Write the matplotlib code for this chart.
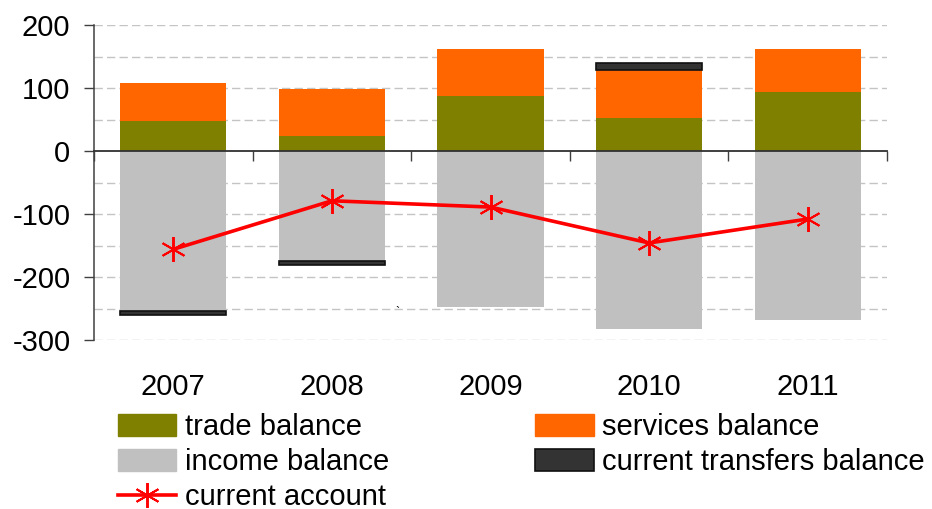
import numpy as np
import matplotlib
matplotlib.use("Agg")
import matplotlib.pyplot as plt
from matplotlib.transforms import blended_transform_factory
from matplotlib.patches import Patch
from matplotlib.lines import Line2D

plt.rcParams['font.family'] = ['Liberation Sans', 'DejaVu Sans']
plt.rcParams['axes.unicode_minus'] = False

# data
years = ['2007', '2008', '2009', '2010', '2011']
trade = [48, 24, 87, 52, 94]
services = [60, 74, 75, 76, 68]
income = [-254, -175, -248, -282, -269]
transfers = [-6, -6, 0, 11, 0]
current = [-156, -79, -89, -146, -108]

x = np.arange(len(years))
w = 0.67
fs = 21

c_trade = '#808000'
c_serv = '#FF6600'
c_inc = '#C0C0C0'
c_tr = '#333333'
c_cur = '#FF0000'

fig = plt.figure(figsize=(9.32, 5.09), dpi=100)
ax = fig.add_axes([94 / 932, 1 - 340 / 509, (887 - 94) / 932, 315 / 509])

# dashed grid every 50
for g in np.arange(-300, 201, 50):
    if g == 0:
        continue
    ax.axhline(g, color='#c4c4c4', lw=1.0, dashes=(6, 3), zorder=0)

ax.bar(x, trade, w, color=c_trade, zorder=2)
ax.bar(x, services, w, bottom=trade, color=c_serv, zorder=2)
ax.bar(x, income, w, color=c_inc, zorder=2)

pos_bottom = np.array(trade) + np.array(services)
tr = np.array(transfers)
tr_bottom = np.where(tr >= 0, pos_bottom, np.array(income))
nz = tr != 0
ax.bar(x[nz], tr[nz], w, bottom=tr_bottom[nz], color=c_tr, edgecolor='#111111',
       linewidth=1.2, zorder=3)

marker = (6, 2, 0)
ax.plot(x, current, color=c_cur, lw=2.6, marker=marker, markersize=18,
        markeredgewidth=1.4, markeredgecolor=c_cur, zorder=4)

ax.set_xlim(-0.5, len(years) - 0.5)
ax.set_ylim(-300, 200)
ax.set_yticks([-300, -200, -100, 0, 100, 200])
ax.tick_params(axis='y', direction='out', length=7, width=1.0, color='#404040',
               labelsize=fs, pad=10)

ax.spines['top'].set_visible(False)
ax.spines['right'].set_visible(False)
ax.spines['left'].set_color('#404040')
ax.spines['bottom'].set_color('#303030')
ax.spines['bottom'].set_position(('data', 0))
ax.spines['left'].set_linewidth(1.1)
ax.spines['bottom'].set_linewidth(1.3)

ax.set_xticks(np.arange(-0.5, len(years), 1.0))
ax.set_xticklabels([])
ax.tick_params(axis='x', direction='out', length=7, width=1.0, color='#404040')

trans = blended_transform_factory(ax.transData, ax.transAxes)
for xi, lab in zip(x, years):
    ax.text(xi, -0.15, lab, transform=trans, ha='center', va='center', fontsize=fs)

handles = [
    Patch(color=c_trade),
    Patch(color=c_inc),
    Line2D([], [], color=c_cur, lw=2.6, marker=marker, markersize=18,
           markeredgewidth=1.4),
    Patch(color=c_serv),
    Patch(facecolor=c_tr, edgecolor='#111111', linewidth=1.2),
]
labels = ['trade balance', 'income balance', 'current account',
          'services balance', 'current transfers balance']
fig.legend(handles, labels, ncol=2,
           loc='upper left', bbox_to_anchor=(118 / 932, 1 - 413 / 509),
           frameon=False, fontsize=fs, handlelength=2.0, handleheight=0.75,
           handletextpad=0.3, columnspacing=5.0, labelspacing=0.24,
           borderpad=0, borderaxespad=0)

fig.text(397 / 932, 1 - 313 / 509, '`', fontsize=9, ha='center', va='center')

fig.savefig('out.png', dpi=100)
